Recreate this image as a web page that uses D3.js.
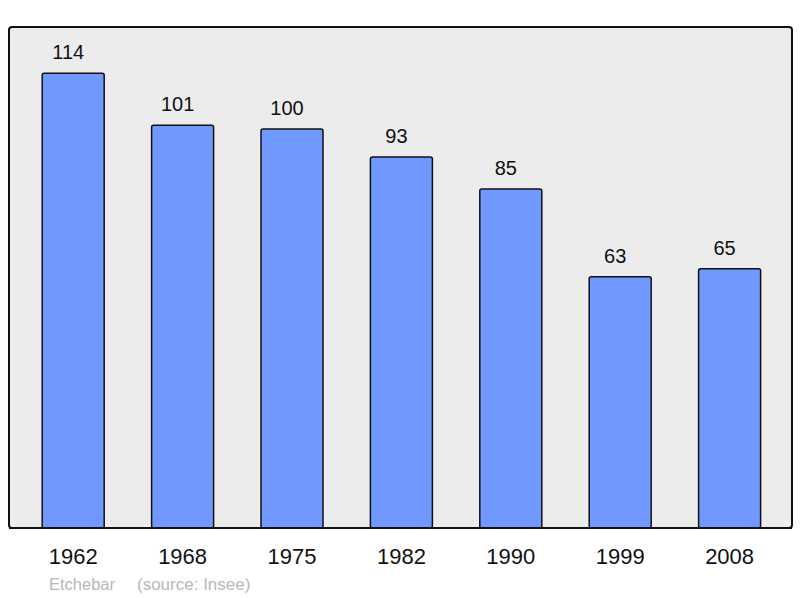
<!doctype html>
<html>
<head>
    <meta charset="UTF-8">
    <title>population</title>
    <script src="https://d3js.org/d3.v7.min.js"></script>
    <style>
        body{ margin:0; background:#fff; }
        text{ font-family: "Liberation Sans", Arial, sans-serif; }
    </style>
</head>
<body>
    <svg width="800" height="598" id="chart"></svg>
    <script>
        var years = ["1962", "1968", "1975", "1982", "1990", "1999", "2008"];
        var population = [114, 101, 100, 93, 85, 63, 65];

        var svg = d3.select("#chart");
        var pLeft = 9, pRight = 792, pTop = 27, pBottom = 528;

        // panel
        svg.append("rect")
           .attr("x", pLeft).attr("y", pTop)
           .attr("width", pRight - pLeft).attr("height", pBottom - pTop)
           .attr("rx", 3)
           .attr("fill", "#ececec")
           .attr("stroke", "#111")
           .attr("stroke-width", 2);

        var x = d3.scaleBand().domain(years).range([18.5, 784.3]);
        var y = d3.scaleLinear().domain([0, 125.6]).range([pBottom, pTop]);
        var bw = 62;

        svg.selectAll("rect.bar")
           .data(population)
           .enter().append("rect")
           .attr("class", "bar")
           .attr("x", function(d, i){ return x(years[i]) + (x.bandwidth() - bw) / 2; })
           .attr("y", function(d){ return y(d); })
           .attr("width", bw)
           .attr("height", function(d){ return pBottom - y(d); })
           .attr("rx", 2)
           .attr("fill", "#7098ff")
           .attr("stroke", "#111")
           .attr("stroke-width", 1.5);

        // redraw bottom border on top of bars
        svg.append("line")
           .attr("x1", pLeft).attr("x2", pRight)
           .attr("y1", pBottom).attr("y2", pBottom)
           .attr("stroke", "#111").attr("stroke-width", 2);

        // value labels sit a little left of the bar centre
        svg.selectAll("text.val")
           .data(population)
           .enter().append("text")
           .attr("class", "val")
           .attr("x", function(d, i){ return x(years[i]) + x.bandwidth() / 2 - 5; })
           .attr("y", function(d){ return y(d) - 14; })
           .attr("text-anchor", "middle")
           .attr("font-size", 20)
           .attr("fill", "#111")
           .text(function(d){ return d; });

        var xAxis = d3.axisBottom(x).tickSize(0).tickPadding(0);
        var ax = svg.append("g").attr("transform", "translate(0," + (pBottom + 18) + ")").call(xAxis);
        ax.select(".domain").remove();
        ax.selectAll("text")
          .attr("font-size", 22)
          .attr("fill", "#111")
          .attr("dy", "0.8em")
          .style("font-family", '"Liberation Sans", Arial, sans-serif');

        svg.append("text")
           .attr("x", 49).attr("y", 590)
           .attr("font-size", 16.5)
           .attr("fill", "#b8b8b8")
           .text("Etchebar");
        svg.append("text")
           .attr("x", 137).attr("y", 590)
           .attr("font-size", 17)
           .attr("fill", "#b8b8b8")
           .text("(source: Insee)");
    </script>
</body>
</html>
